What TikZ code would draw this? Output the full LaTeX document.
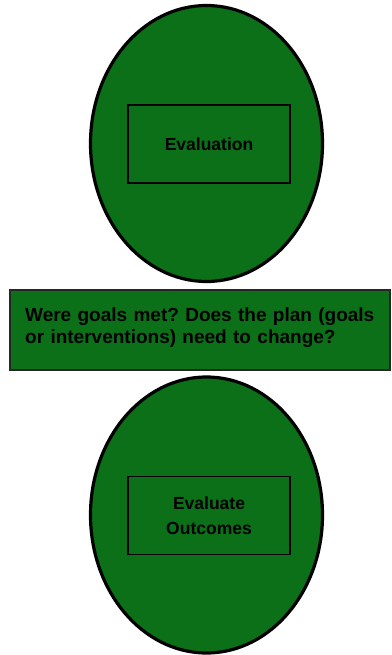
\documentclass[tikz,border=0pt]{standalone}
\usepackage{fontspec}
\setmainfont{Liberation Sans}
\usetikzlibrary{shapes.geometric}
\definecolor{leaf}{RGB}{11,112,24}
\frenchspacing
\begin{document}
\begin{tikzpicture}[x=1pt,y=-1pt,
  oval/.style={ellipse, draw=black, line width=3.2pt, fill=leaf,
    minimum width=232pt, minimum height=276pt, inner sep=0pt, outer sep=0pt},
  labelbox/.style={draw=black, line width=1.2pt, minimum width=162pt,
    minimum height=78pt, inner sep=0pt, outer sep=0pt, align=center,
    font=\bfseries\fontsize{17.5}{25}\selectfont},
  banner/.style={draw=black!85, line width=1.5pt, fill=leaf,
    minimum width=380pt, minimum height=80pt, inner sep=0pt, outer sep=0pt},
  bannertext/.style={anchor=base west, inner sep=0pt, align=left,
    text width=370pt, font=\bfseries\fontsize{19}{22}\selectfont}]
\useasboundingbox (0,0) rectangle (391,655);

% upper stage
\node[oval] (evaloval) at (206.5,143.5) {};
\node[labelbox] (evaluation) at (209,144) {Evaluation};

% guiding question
\node[banner, anchor=north west] (question) at (10,290) {};
\node[bannertext] (questiontext) at (25,321)
  {Were goals met? Does the plan (goals\\or interventions) need to change?};

% lower stage
\node[oval] (outcomeoval) at (206.5,515) {};
\node[labelbox] (outcomes) at (209,515.5) {Evaluate\\Outcomes};
\end{tikzpicture}
\end{document}
